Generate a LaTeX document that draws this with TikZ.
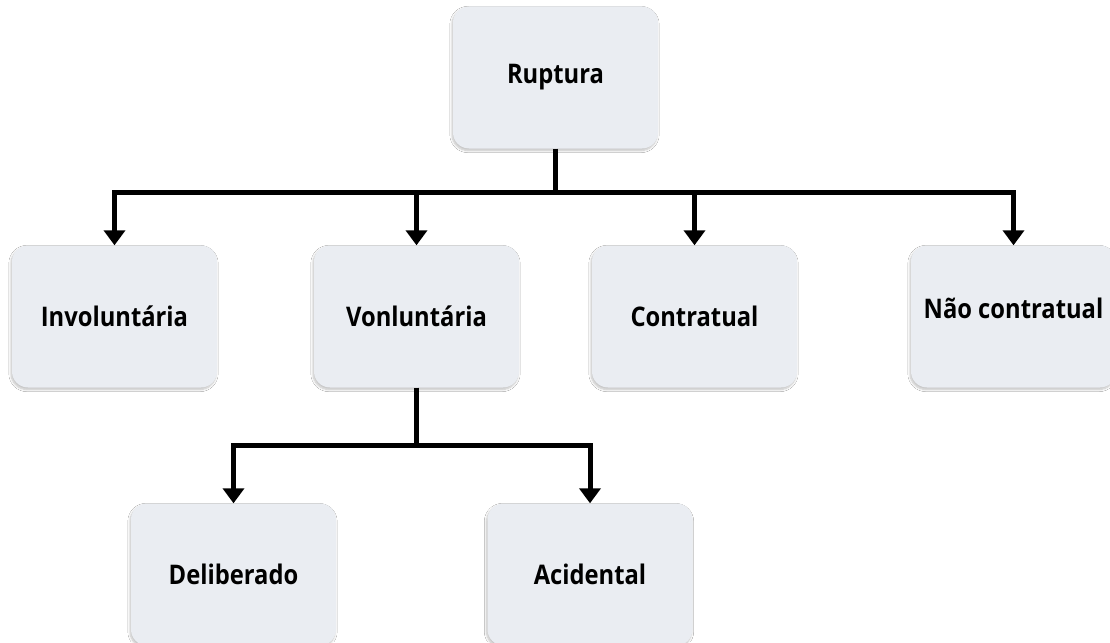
\documentclass[tikz,border=0pt]{standalone}
\usepackage{fontspec}
\setmainfont{Open Sans}[BoldFont={Open Sans Bold},BoldFeatures={FakeStretch=0.88}]
\usetikzlibrary{arrows.meta,shadows.blur}
\definecolor{boxfill}{HTML}{EAEDF2}
\tikzset{
  x=1pt, y=-1pt,
  box/.style={draw=none, fill=boxfill, rounded corners=16pt,
    minimum width=205pt, minimum height=142pt, inner sep=0pt,
    font=\fontsize{27}{30}\selectfont\bfseries,
    blur shadow={shadow xshift=-1pt, shadow yshift=-2pt, shadow blur steps=6, shadow opacity=25}},
  link/.style={line width=5pt, black},
  arrow/.style={link, -{Triangle[width=21pt,length=15pt]}}
}
\begin{document}
\begin{tikzpicture}
\useasboundingbox (0,0) rectangle (1110,642);
\clip (0,0) rectangle (1110,642);
\fill[white] (0,0) rectangle (1110,642);

% boxes
\node[box] (rup) at (555.5,77.5) {Ruptura};
\node[box] (inv) at (114.5,316.5) {Involuntária};
\node[box] (von) at (416.5,316.5) {Vonluntária};
\node[box] (con) at (694.5,316.5) {Contratual};
\node[box] (nao) at (1013.5,316.5) {\raisebox{17pt}{Não contratual}};
\node[box] (del) at (233.5,574.5) {Deliberado};
\node[box] (aci) at (590,574.5) {Acidental};

% first level connectors
\coordinate (j1) at (555.5,192);
\draw[link] (rup.south) -- (j1);
\draw[arrow] (j1) -| (inv.north);
\draw[arrow] (j1) -| (von.north);
\draw[arrow] (j1) -| (con.north);
\draw[arrow] (j1) -| (nao.north);

% second level connectors
\coordinate (j2) at (416.5,445);
\draw[link] (von.south) -- (j2);
\draw[arrow] (j2) -| (del.north);
\draw[arrow] (j2) -| (aci.north);
\end{tikzpicture}
\end{document}
